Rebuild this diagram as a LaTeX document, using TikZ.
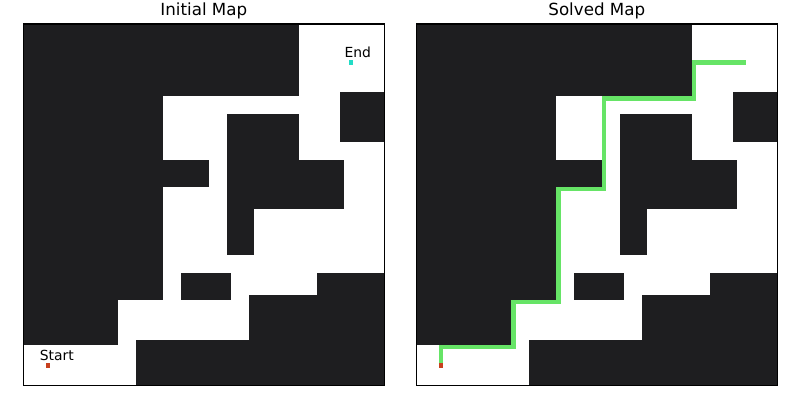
\documentclass[tikz,border=0pt]{standalone}
\usepackage{fontspec}
\setmainfont{DejaVu Sans}
\definecolor{wall}{HTML}{1E1E20}
\definecolor{pathgreen}{HTML}{66E466}
\definecolor{startred}{HTML}{C8401E}
\definecolor{endcyan}{HTML}{22DCC6}
\tikzset{
  wallcell/.style={fill=wall, draw=none},
  frame/.style={draw=black, line width=1.1pt},
  maptitle/.style={anchor=base, inner sep=0pt, font=\fontsize{16.7}{18}\selectfont},
  maplabel/.style={anchor=base west, inner sep=0pt, font=\fontsize{13.9}{15}\selectfont},
  route/.style={draw=pathgreen, line width=4.52pt, line cap=rect, line join=miter},
}
\newcommand{\mazewalls}{%
  \fill[wallcell] (0,0) rectangle (61,16);
  \fill[wallcell] (0,16) rectangle (31,61);
  \fill[wallcell] (0,61) rectangle (21,71);
  \fill[wallcell] (31,30) rectangle (41,36);
  \fill[wallcell] (45,20) rectangle (61,30);
  \fill[wallcell] (45,30) rectangle (71,41);
  \fill[wallcell] (45,41) rectangle (51,51);
  \fill[wallcell] (70,15) rectangle (80,26);
  \fill[wallcell] (35,55) rectangle (46,61);
  \fill[wallcell] (65,55) rectangle (80,80);
  \fill[wallcell] (50,60) rectangle (80,80);
  \fill[wallcell] (25,70) rectangle (80,80);
}
\begin{document}
\begin{tikzpicture}[x=1pt,y=-1pt]
\useasboundingbox (0,0) rectangle (800,400);
\fill[white] (0,0) rectangle (800,400);
% titles
\node[maptitle] (t1) at (203.8,15.8) {Initial Map};
\node[maptitle] (t2) at (596.8,15.8) {Solved Map};
% left panel
\begin{scope}[shift={(23.2,24)}, x=4.52pt, y=-4.52pt]
  \mazewalls
  \fill[startred] (5,75) rectangle (6,76);
  \fill[endcyan] (72,8) rectangle (73,9);
  \draw[frame] (0,0) rectangle (80,80);
\end{scope}
\node[maplabel] (startlbl) at (39.6,360.6) {Start};
\node[maplabel] (endlbl) at (344.4,57.6) {End};
% right panel
\begin{scope}[shift={(416.2,24)}, x=4.52pt, y=-4.52pt]
  \mazewalls
  \draw[route] (5.5,75.5) -- (5.5,71.5) -- (21.5,71.5) -- (21.5,61.5) -- (31.5,61.5) -- (31.5,36.5) -- (41.5,36.5) -- (41.5,16.5) -- (61.5,16.5) -- (61.5,8.5) -- (72.5,8.5);
  \fill[startred] (5,75) rectangle (6,76);
  \draw[frame] (0,0) rectangle (80,80);
\end{scope}
\end{tikzpicture}
\end{document}
